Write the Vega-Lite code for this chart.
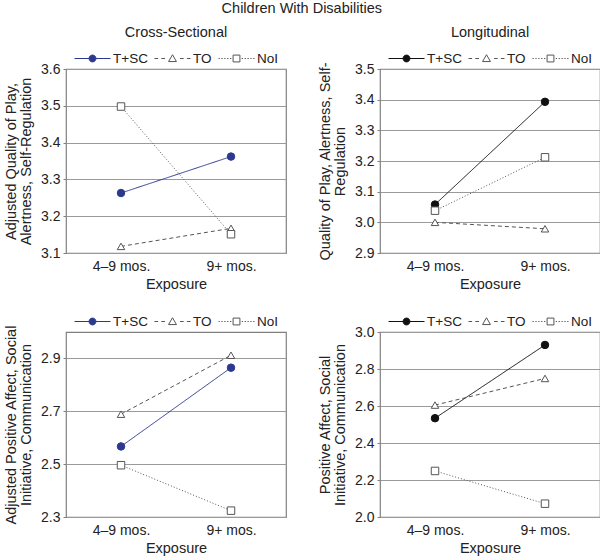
{
  "$schema": "https://vega.github.io/schema/vega-lite/v6.json",
  "background": "white",
  "padding": {"left": 2, "top": 1, "right": 2, "bottom": 2},
  "title": {"text": "Children With Disabilities", "anchor": "middle", "fontSize": 14.5, "fontWeight": "normal", "font": "Liberation Sans", "color": "#222222", "offset": 7},
  "columns": 2,
  "spacing": {"row": 10, "column": 29},
  "resolve": {
    "scale": {"x": "independent", "y": "independent", "color": "independent", "stroke": "independent", "fill": "independent", "shape": "independent", "strokeDash": "independent"}
  },
  "config": {
    "font": "Liberation Sans",
    "view": {"stroke": "#808080", "strokeWidth": 1.2},
    "axis": {
      "labelFont": "Liberation Sans", "labelFontSize": 14, "labelColor": "#222222",
      "titleFont": "Liberation Sans", "titleFontSize": 14.5, "titleFontWeight": "normal", "titleColor": "#222222",
      "domain": false, "gridColor": "#9a9a9a", "gridWidth": 1, "tickColor": "#808080", "tickSize": 3, "labelPadding": 3
    },
    "axisX": {"grid": false, "ticks": false, "labelAngle": 0, "labelPadding": 6, "titlePadding": 4},
    "axisY": {"titlePadding": 7, "titleLineHeight": 15},
    "legend": {
      "orient": "top", "direction": "horizontal", "title": null,
      "labelFont": "Liberation Sans", "labelFontSize": 13.5, "labelColor": "#222222",
      "symbolSize": 1296, "symbolStrokeWidth": 1, "labelOffset": 2, "columnPadding": 4, "offset": 4, "padding": 0,
      "layout": {"top": {"anchor": "middle"}}
    }
  },
  "datasets": {
    "tl": [
      {"exposure": "4–9 mos.", "group": "T+SC", "score": 3.263},
      {"exposure": "9+ mos.", "group": "T+SC", "score": 3.362},
      {"exposure": "4–9 mos.", "group": "TO", "score": 3.118},
      {"exposure": "9+ mos.", "group": "TO", "score": 3.167},
      {"exposure": "4–9 mos.", "group": "NoI", "score": 3.498},
      {"exposure": "9+ mos.", "group": "NoI", "score": 3.151}
    ],
    "tr": [
      {"exposure": "4–9 mos.", "group": "T+SC", "score": 3.058},
      {"exposure": "9+ mos.", "group": "T+SC", "score": 3.393},
      {"exposure": "4–9 mos.", "group": "TO", "score": 3.0},
      {"exposure": "9+ mos.", "group": "TO", "score": 2.979},
      {"exposure": "4–9 mos.", "group": "NoI", "score": 3.038},
      {"exposure": "9+ mos.", "group": "NoI", "score": 3.212}
    ],
    "bl": [
      {"exposure": "4–9 mos.", "group": "T+SC", "score": 2.567},
      {"exposure": "9+ mos.", "group": "T+SC", "score": 2.865},
      {"exposure": "4–9 mos.", "group": "TO", "score": 2.689},
      {"exposure": "9+ mos.", "group": "TO", "score": 2.912},
      {"exposure": "4–9 mos.", "group": "NoI", "score": 2.496},
      {"exposure": "9+ mos.", "group": "NoI", "score": 2.324}
    ],
    "br": [
      {"exposure": "4–9 mos.", "group": "T+SC", "score": 2.534},
      {"exposure": "9+ mos.", "group": "T+SC", "score": 2.930},
      {"exposure": "4–9 mos.", "group": "TO", "score": 2.605},
      {"exposure": "9+ mos.", "group": "TO", "score": 2.749},
      {"exposure": "4–9 mos.", "group": "NoI", "score": 2.249},
      {"exposure": "9+ mos.", "group": "NoI", "score": 2.072}
    ]
  },
  "concat": [
    {
      "width": 220, "height": 184,
      "title": {"text": "Cross-Sectional", "fontSize": 14.5, "fontWeight": "normal", "font": "Liberation Sans", "color": "#222222", "offset": 0},
      "data": {"name": "tl"},
      "encoding": {
        "x": {"field": "exposure", "type": "ordinal", "sort": ["4–9 mos.", "9+ mos."], "scale": {"type": "point", "padding": 0.5}, "title": "Exposure"},
        "y": {"field": "score", "type": "quantitative", "scale": {"domain": [3.1, 3.6], "nice": false, "zero": false}, "axis": {"values": [3.1, 3.2, 3.3, 3.4, 3.5, 3.6], "format": ".1f", "title": ["Adjusted Quality of Play,", "Alertness, Self-Regulation"]}}
      },
      "resolve": {"legend": {"shape": "independent", "fill": "independent", "stroke": "independent"}},
      "layer": [
        {
          "mark": {"type": "line", "strokeWidth": 1},
          "encoding": {
            "color": {"field": "group", "type": "nominal", "scale": {"domain": ["T+SC", "TO", "NoI"], "range": ["#2b3990", "#555555", "#555555"]}, "legend": null},
            "strokeDash": {"field": "group", "type": "nominal", "scale": {"domain": ["T+SC", "TO", "NoI"], "range": [[1, 0], [4, 3], [1, 2]]}, "legend": null}
          }
        },
        {
          "mark": {"type": "point", "size": 56, "strokeWidth": 1, "opacity": 1},
          "encoding": {
            "shape": {"field": "group", "type": "nominal", "scale": {"range": ["square", "circle", "triangle-up"]}, "legend": null},
            "fill": {"field": "group", "type": "nominal", "scale": {"domain": ["T+SC", "TO", "NoI"], "range": ["#2b3990", "#ffffff", "#ffffff"]}, "legend": {"encoding": {"symbols": {"shape": {"value": {"expr": "datum.value === 'T+SC' ? 'M-1,0L1,0M0.19,0A0.19,0.19,0,1,1,-0.19,0A0.19,0.19,0,1,1,0.19,0Z' : datum.value === 'TO' ? 'M-1,0L-0.8,0M-0.62,0L-0.42,0M0.42,0L0.62,0M0.8,0L1,0M0,-0.21L0.22,0.17L-0.22,0.17Z' : 'M-1,0L-0.93,0M-0.84,0L-0.77,0M-0.68,0L-0.61,0M-0.52,0L-0.45,0M-0.36,0L-0.29,0M0.29,0L0.36,0M0.45,0L0.52,0M0.61,0L0.68,0M0.77,0L0.84,0M0.93,0L1,0M-0.19,-0.19L0.19,-0.19L0.19,0.19L-0.19,0.19Z'"}}}}}},
            "stroke": {"field": "group", "type": "nominal", "scale": {"domain": ["T+SC", "TO", "NoI"], "range": ["#2b3990", "#555555", "#555555"]}, "legend": {"encoding": {"symbols": {"shape": {"value": {"expr": "datum.value === 'T+SC' ? 'M-1,0L1,0M0.19,0A0.19,0.19,0,1,1,-0.19,0A0.19,0.19,0,1,1,0.19,0Z' : datum.value === 'TO' ? 'M-1,0L-0.8,0M-0.62,0L-0.42,0M0.42,0L0.62,0M0.8,0L1,0M0,-0.21L0.22,0.17L-0.22,0.17Z' : 'M-1,0L-0.93,0M-0.84,0L-0.77,0M-0.68,0L-0.61,0M-0.52,0L-0.45,0M-0.36,0L-0.29,0M0.29,0L0.36,0M0.45,0L0.52,0M0.61,0L0.68,0M0.77,0L0.84,0M0.93,0L1,0M-0.19,-0.19L0.19,-0.19L0.19,0.19L-0.19,0.19Z'"}}}}}}
          }
        }
      ]
    },
    {
      "width": 220, "height": 184,
      "title": {"text": "Longitudinal", "fontSize": 14.5, "fontWeight": "normal", "font": "Liberation Sans", "color": "#222222", "offset": 0},
      "data": {"name": "tr"},
      "encoding": {
        "x": {"field": "exposure", "type": "ordinal", "sort": ["4–9 mos.", "9+ mos."], "scale": {"type": "point", "padding": 0.5}, "title": "Exposure"},
        "y": {"field": "score", "type": "quantitative", "scale": {"domain": [2.9, 3.5], "nice": false, "zero": false}, "axis": {"values": [2.9, 3.0, 3.1, 3.2, 3.3, 3.4, 3.5], "format": ".1f", "title": ["Quality of Play, Alertness, Self-", "Regulation"]}}
      },
      "resolve": {"legend": {"shape": "independent", "fill": "independent", "stroke": "independent"}},
      "layer": [
        {
          "mark": {"type": "line", "strokeWidth": 1},
          "encoding": {
            "color": {"field": "group", "type": "nominal", "scale": {"domain": ["T+SC", "TO", "NoI"], "range": ["#111111", "#555555", "#555555"]}, "legend": null},
            "strokeDash": {"field": "group", "type": "nominal", "scale": {"domain": ["T+SC", "TO", "NoI"], "range": [[1, 0], [4, 3], [1, 2]]}, "legend": null}
          }
        },
        {
          "mark": {"type": "point", "size": 56, "strokeWidth": 1, "opacity": 1},
          "encoding": {
            "shape": {"field": "group", "type": "nominal", "scale": {"range": ["square", "circle", "triangle-up"]}, "legend": null},
            "fill": {"field": "group", "type": "nominal", "scale": {"domain": ["T+SC", "TO", "NoI"], "range": ["#111111", "#ffffff", "#ffffff"]}, "legend": {"encoding": {"symbols": {"shape": {"value": {"expr": "datum.value === 'T+SC' ? 'M-1,0L1,0M0.19,0A0.19,0.19,0,1,1,-0.19,0A0.19,0.19,0,1,1,0.19,0Z' : datum.value === 'TO' ? 'M-1,0L-0.8,0M-0.62,0L-0.42,0M0.42,0L0.62,0M0.8,0L1,0M0,-0.21L0.22,0.17L-0.22,0.17Z' : 'M-1,0L-0.93,0M-0.84,0L-0.77,0M-0.68,0L-0.61,0M-0.52,0L-0.45,0M-0.36,0L-0.29,0M0.29,0L0.36,0M0.45,0L0.52,0M0.61,0L0.68,0M0.77,0L0.84,0M0.93,0L1,0M-0.19,-0.19L0.19,-0.19L0.19,0.19L-0.19,0.19Z'"}}}}}},
            "stroke": {"field": "group", "type": "nominal", "scale": {"domain": ["T+SC", "TO", "NoI"], "range": ["#111111", "#555555", "#555555"]}, "legend": {"encoding": {"symbols": {"shape": {"value": {"expr": "datum.value === 'T+SC' ? 'M-1,0L1,0M0.19,0A0.19,0.19,0,1,1,-0.19,0A0.19,0.19,0,1,1,0.19,0Z' : datum.value === 'TO' ? 'M-1,0L-0.8,0M-0.62,0L-0.42,0M0.42,0L0.62,0M0.8,0L1,0M0,-0.21L0.22,0.17L-0.22,0.17Z' : 'M-1,0L-0.93,0M-0.84,0L-0.77,0M-0.68,0L-0.61,0M-0.52,0L-0.45,0M-0.36,0L-0.29,0M0.29,0L0.36,0M0.45,0L0.52,0M0.61,0L0.68,0M0.77,0L0.84,0M0.93,0L1,0M-0.19,-0.19L0.19,-0.19L0.19,0.19L-0.19,0.19Z'"}}}}}}
          }
        }
      ]
    },
    {
      "width": 220, "height": 185,
      "data": {"name": "bl"},
      "encoding": {
        "x": {"field": "exposure", "type": "ordinal", "sort": ["4–9 mos.", "9+ mos."], "scale": {"type": "point", "padding": 0.5}, "title": "Exposure"},
        "y": {"field": "score", "type": "quantitative", "scale": {"domain": [2.3, 3.0], "nice": false, "zero": false}, "axis": {"values": [2.3, 2.5, 2.7, 2.9], "format": ".1f", "title": ["Adjusted Positive Affect, Social", "Initiative, Communication"]}}
      },
      "resolve": {"legend": {"shape": "independent", "fill": "independent", "stroke": "independent"}},
      "layer": [
        {
          "mark": {"type": "line", "strokeWidth": 1},
          "encoding": {
            "color": {"field": "group", "type": "nominal", "scale": {"domain": ["T+SC", "TO", "NoI"], "range": ["#2b3990", "#555555", "#555555"]}, "legend": null},
            "strokeDash": {"field": "group", "type": "nominal", "scale": {"domain": ["T+SC", "TO", "NoI"], "range": [[1, 0], [4, 3], [1, 2]]}, "legend": null}
          }
        },
        {
          "mark": {"type": "point", "size": 56, "strokeWidth": 1, "opacity": 1},
          "encoding": {
            "shape": {"field": "group", "type": "nominal", "scale": {"range": ["square", "circle", "triangle-up"]}, "legend": null},
            "fill": {"field": "group", "type": "nominal", "scale": {"domain": ["T+SC", "TO", "NoI"], "range": ["#2b3990", "#ffffff", "#ffffff"]}, "legend": {"encoding": {"symbols": {"shape": {"value": {"expr": "datum.value === 'T+SC' ? 'M-1,0L1,0M0.19,0A0.19,0.19,0,1,1,-0.19,0A0.19,0.19,0,1,1,0.19,0Z' : datum.value === 'TO' ? 'M-1,0L-0.8,0M-0.62,0L-0.42,0M0.42,0L0.62,0M0.8,0L1,0M0,-0.21L0.22,0.17L-0.22,0.17Z' : 'M-1,0L-0.93,0M-0.84,0L-0.77,0M-0.68,0L-0.61,0M-0.52,0L-0.45,0M-0.36,0L-0.29,0M0.29,0L0.36,0M0.45,0L0.52,0M0.61,0L0.68,0M0.77,0L0.84,0M0.93,0L1,0M-0.19,-0.19L0.19,-0.19L0.19,0.19L-0.19,0.19Z'"}}}}}},
            "stroke": {"field": "group", "type": "nominal", "scale": {"domain": ["T+SC", "TO", "NoI"], "range": ["#2b3990", "#555555", "#555555"]}, "legend": {"encoding": {"symbols": {"shape": {"value": {"expr": "datum.value === 'T+SC' ? 'M-1,0L1,0M0.19,0A0.19,0.19,0,1,1,-0.19,0A0.19,0.19,0,1,1,0.19,0Z' : datum.value === 'TO' ? 'M-1,0L-0.8,0M-0.62,0L-0.42,0M0.42,0L0.62,0M0.8,0L1,0M0,-0.21L0.22,0.17L-0.22,0.17Z' : 'M-1,0L-0.93,0M-0.84,0L-0.77,0M-0.68,0L-0.61,0M-0.52,0L-0.45,0M-0.36,0L-0.29,0M0.29,0L0.36,0M0.45,0L0.52,0M0.61,0L0.68,0M0.77,0L0.84,0M0.93,0L1,0M-0.19,-0.19L0.19,-0.19L0.19,0.19L-0.19,0.19Z'"}}}}}}
          }
        }
      ]
    },
    {
      "width": 220, "height": 185,
      "data": {"name": "br"},
      "encoding": {
        "x": {"field": "exposure", "type": "ordinal", "sort": ["4–9 mos.", "9+ mos."], "scale": {"type": "point", "padding": 0.5}, "title": "Exposure"},
        "y": {"field": "score", "type": "quantitative", "scale": {"domain": [2.0, 3.0], "nice": false, "zero": false}, "axis": {"values": [2.0, 2.2, 2.4, 2.6, 2.8, 3.0], "format": ".1f", "title": ["Positive Affect, Social", "Initiative, Communication"]}}
      },
      "resolve": {"legend": {"shape": "independent", "fill": "independent", "stroke": "independent"}},
      "layer": [
        {
          "mark": {"type": "line", "strokeWidth": 1},
          "encoding": {
            "color": {"field": "group", "type": "nominal", "scale": {"domain": ["T+SC", "TO", "NoI"], "range": ["#111111", "#555555", "#555555"]}, "legend": null},
            "strokeDash": {"field": "group", "type": "nominal", "scale": {"domain": ["T+SC", "TO", "NoI"], "range": [[1, 0], [4, 3], [1, 2]]}, "legend": null}
          }
        },
        {
          "mark": {"type": "point", "size": 56, "strokeWidth": 1, "opacity": 1},
          "encoding": {
            "shape": {"field": "group", "type": "nominal", "scale": {"range": ["square", "circle", "triangle-up"]}, "legend": null},
            "fill": {"field": "group", "type": "nominal", "scale": {"domain": ["T+SC", "TO", "NoI"], "range": ["#111111", "#ffffff", "#ffffff"]}, "legend": {"encoding": {"symbols": {"shape": {"value": {"expr": "datum.value === 'T+SC' ? 'M-1,0L1,0M0.19,0A0.19,0.19,0,1,1,-0.19,0A0.19,0.19,0,1,1,0.19,0Z' : datum.value === 'TO' ? 'M-1,0L-0.8,0M-0.62,0L-0.42,0M0.42,0L0.62,0M0.8,0L1,0M0,-0.21L0.22,0.17L-0.22,0.17Z' : 'M-1,0L-0.93,0M-0.84,0L-0.77,0M-0.68,0L-0.61,0M-0.52,0L-0.45,0M-0.36,0L-0.29,0M0.29,0L0.36,0M0.45,0L0.52,0M0.61,0L0.68,0M0.77,0L0.84,0M0.93,0L1,0M-0.19,-0.19L0.19,-0.19L0.19,0.19L-0.19,0.19Z'"}}}}}},
            "stroke": {"field": "group", "type": "nominal", "scale": {"domain": ["T+SC", "TO", "NoI"], "range": ["#111111", "#555555", "#555555"]}, "legend": {"encoding": {"symbols": {"shape": {"value": {"expr": "datum.value === 'T+SC' ? 'M-1,0L1,0M0.19,0A0.19,0.19,0,1,1,-0.19,0A0.19,0.19,0,1,1,0.19,0Z' : datum.value === 'TO' ? 'M-1,0L-0.8,0M-0.62,0L-0.42,0M0.42,0L0.62,0M0.8,0L1,0M0,-0.21L0.22,0.17L-0.22,0.17Z' : 'M-1,0L-0.93,0M-0.84,0L-0.77,0M-0.68,0L-0.61,0M-0.52,0L-0.45,0M-0.36,0L-0.29,0M0.29,0L0.36,0M0.45,0L0.52,0M0.61,0L0.68,0M0.77,0L0.84,0M0.93,0L1,0M-0.19,-0.19L0.19,-0.19L0.19,0.19L-0.19,0.19Z'"}}}}}}
          }
        }
      ]
    }
  ]
}
